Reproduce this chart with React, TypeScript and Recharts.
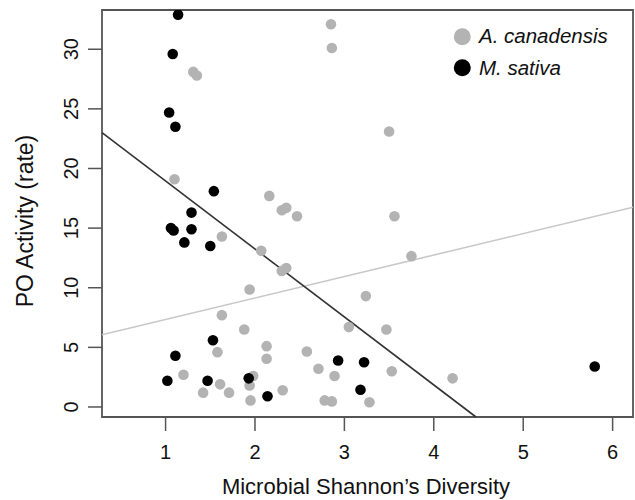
import React from 'react';
import { ScatterChart, Scatter, XAxis, YAxis, ReferenceLine, ReferenceArea } from 'recharts';

// A. canadensis (grey)
const canX = [1.31, 1.35, 1.10, 1.63, 2.16, 2.30, 2.35, 2.47, 2.07, 2.30, 2.35, 1.94, 2.85, 2.86, 3.50, 3.56, 3.75, 1.63, 1.88, 1.58, 2.13, 2.13, 1.20, 1.61, 1.42, 1.71, 1.98, 1.94, 1.95, 2.31, 3.24, 3.05, 3.47, 2.58, 2.71, 2.89, 3.53, 4.21, 2.78, 2.86, 3.28];
const canY = [28.1, 27.8, 19.1, 14.3, 17.7, 16.5, 16.7, 16.0, 13.1, 11.4, 11.65, 9.85, 32.1, 30.1, 23.1, 16.0, 12.65, 7.7, 6.5, 4.6, 5.1, 4.05, 2.7, 1.9, 1.2, 1.2, 2.6, 1.8, 0.55, 1.4, 9.3, 6.7, 6.5, 4.65, 3.2, 2.6, 3.0, 2.4, 0.55, 0.47, 0.4];

// M. sativa (black)
const satX = [1.14, 1.08, 1.04, 1.11, 1.54, 1.29, 1.06, 1.09, 1.29, 1.21, 1.50, 1.53, 1.11, 1.02, 1.47, 1.93, 2.14, 2.93, 3.22, 3.18, 5.80];
const satY = [32.9, 29.6, 24.7, 23.5, 18.1, 16.3, 15.0, 14.8, 14.9, 13.8, 13.5, 5.6, 4.3, 2.2, 2.2, 2.4, 0.9, 3.9, 3.75, 1.45, 3.4];

const xTicks = [1, 2, 3, 4, 5, 6];
const yTicks = [0, 5, 10, 15, 20, 25, 30];

// fitted lines: y = a + b*x
const satFit = { a: 24.65, b: -5.7 };
const canFit = { a: 5.54, b: 1.8 };

const X_MIN = 0.289;
const X_MAX = 6.228;
const Y_MIN = -0.84;
const Y_MAX = 33.29;

const FONT = '"Liberation Sans", Arial, Helvetica, sans-serif';

const canData = canX.map((x, i) => ({ x, y: canY[i] }));
const satData = satX.map((x, i) => ({ x, y: satY[i] }));

const satEndX = (Y_MIN - satFit.a) / satFit.b;

const dot = (fill: string) => (props: any) => (
  <circle cx={props.cx} cy={props.cy} r={5.3} fill={fill} />
);

const XTick = (props: any) => (
  <text x={props.x} y={props.y + 26} textAnchor="middle" fontSize={20} fontFamily={FONT} fill="#111">
    {props.payload.value}
  </text>
);

const YTick = (props: any) => {
  const tx = props.x - 7.7;
  return (
    <text x={tx} y={props.y} textAnchor="middle" fontSize={20} fontFamily={FONT} fill="#111"
      transform={`rotate(-90 ${tx} ${props.y})`}>
      {props.payload.value}
    </text>
  );
};

export default function App() {
  return (
    <div style={{ position: 'absolute', left: 0, top: 0, width: 635, height: 500, background: '#fff' }}>
      <ScatterChart width={635} height={500} margin={{ top: 10, right: 2, bottom: 0, left: 0 }}>
        <XAxis type="number" dataKey="x" domain={[X_MIN, X_MAX]} ticks={xTicks} allowDataOverflow
          height={83} axisLine={false} tickSize={14} tickLine={{ stroke: '#555', strokeWidth: 1.5 }} tick={<XTick />} />
        <YAxis type="number" dataKey="y" domain={[Y_MIN, Y_MAX]} ticks={yTicks} allowDataOverflow
          width={102} axisLine={false} tickSize={14} tickLine={{ stroke: '#555', strokeWidth: 1.5 }} tick={<YTick />} />
        <Scatter data={canData} fill="#b3b3b3" shape={dot('#b3b3b3')} isAnimationActive={false} />
        <Scatter data={satData} fill="#000" shape={dot('#000')} isAnimationActive={false} />
        <ReferenceLine ifOverflow="visible" stroke="#c8c8c8" strokeWidth={1.6}
          segment={[{ x: X_MIN, y: canFit.a + canFit.b * X_MIN }, { x: X_MAX, y: canFit.a + canFit.b * X_MAX }]} />
        <ReferenceLine ifOverflow="visible" stroke="#333" strokeWidth={1.6}
          segment={[{ x: X_MIN, y: satFit.a + satFit.b * X_MIN }, { x: satEndX, y: Y_MIN }]} />
        <ReferenceArea x1={X_MIN} x2={X_MAX} y1={Y_MIN} y2={Y_MAX} ifOverflow="visible"
          fill="none" fillOpacity={0} stroke="#555" strokeWidth={1.8} />
      </ScatterChart>
      <svg width={635} height={500} style={{ position: 'absolute', left: 0, top: 0, pointerEvents: 'none' }}>
        <text x={366} y={494} textAnchor="middle" fontSize={22} fontFamily={FONT} fill="#111">
          Microbial Shannon’s Diversity
        </text>
        <text x={33} y={221} textAnchor="middle" fontSize={23} fontFamily={FONT} fill="#111"
          transform="rotate(-90 33 221)">
          PO Activity (rate)
        </text>
        <circle cx={462.3} cy={36.7} r={8.5} fill="#b3b3b3" />
        <circle cx={462.3} cy={67.7} r={8.5} fill="#000" />
        <text x={479} y={42.5} fontSize={20.5} fontStyle="italic" fontFamily={FONT} fill="#111">A. canadensis</text>
        <text x={479} y={74.5} fontSize={20.5} fontStyle="italic" fontFamily={FONT} fill="#111">M. sativa</text>
      </svg>
    </div>
  );
}
